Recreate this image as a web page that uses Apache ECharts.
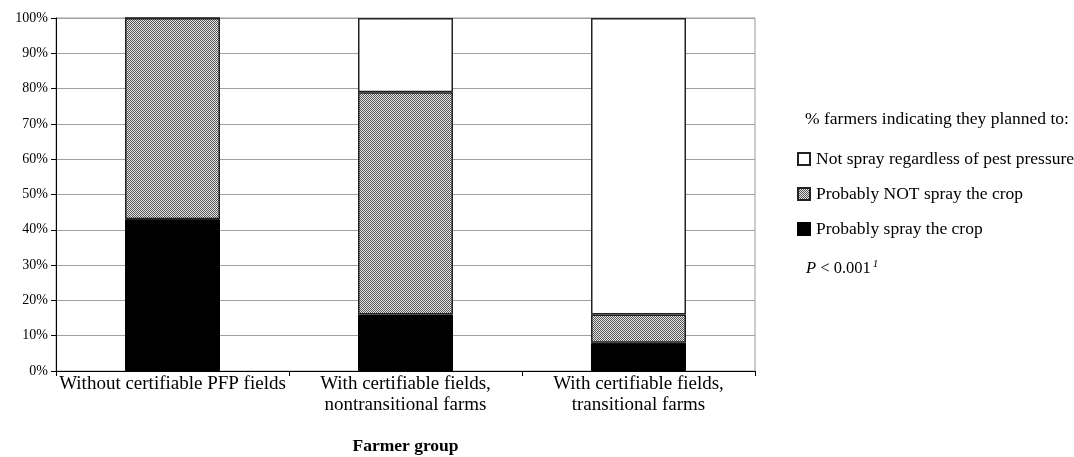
<!DOCTYPE html>
<html>
<head>
<meta charset="utf-8">
<script src="https://cdn.jsdelivr.net/npm/echarts@6/dist/echarts.min.js"></script>
<style>
html,body{margin:0;padding:0;background:#fff;}
#chart{width:1074px;height:457px;}
</style>
</head>
<body>
<div id="chart"></div>
<script>
const categories = ['Without certifiable PFP fields', 'With certifiable fields,\nnontransitional farms', 'With certifiable fields,\ntransitional farms'];
const sprayValues = [43, 16, 8];
const probablyNotValues = [57, 63, 8];
const notSprayValues = [0, 21, 84];
const seriesNames = ['Not spray regardless of pest pressure', 'Probably NOT spray the crop', 'Probably spray the crop'];
const yTicks = [0, 10, 20, 30, 40, 50, 60, 70, 80, 90, 100];

const FONT = 'Liberation Serif';

function makePattern() {
  const c = document.createElement('canvas');
  c.width = 2; c.height = 2;
  const ctx = c.getContext('2d');
  ctx.fillStyle = '#e6e6e6'; ctx.fillRect(0, 0, 2, 2);
  ctx.fillStyle = '#555555';
  ctx.fillRect(0, 0, 1, 1);
  ctx.fillRect(1, 1, 1, 1);
  return c;
}
const pattern = { image: makePattern(), repeat: 'repeat' };

const chart = echarts.init(document.getElementById('chart'), null, { renderer: 'canvas' });
const barW = 95;
const option = {
  animation: false,
  backgroundColor: '#fff',
  textStyle: { fontFamily: FONT, color: '#000' },
  grid: { left: 56, right: 319, top: 18, bottom: 86, show: true, borderColor: '#9a9a9a', borderWidth: 1, outerBoundsMode: 'none', containLabel: false },
  legend: {
    orient: 'vertical',
    left: 797,
    top: 150,
    padding: 0,
    itemWidth: 12,
    itemHeight: 12,
    itemGap: 17,
    icon: 'rect',
    data: [
      { name: seriesNames[0] },
      { name: seriesNames[1], itemStyle: { color: pattern } },
      { name: seriesNames[2] }
    ],
    textStyle: { fontFamily: FONT, fontSize: 17.5, color: '#000', padding: [0, 0, 0, 1] },
    selectedMode: false
  },
  graphic: [
    { type: 'text', left: 805, top: 110, style: { text: '% farmers indicating they planned to:', font: '17.5px "Liberation Serif"', fill: '#000' } },
    { type: 'text', left: 806, top: 259, style: {
      text: '{i|P} < 0.001{s|1}',
      font: '16.5px "Liberation Serif"', fill: '#000',
      rich: {
        i: { fontStyle: 'italic', fontFamily: FONT, fontSize: 16.5 },
        s: { fontStyle: 'italic', fontFamily: FONT, fontSize: 11, verticalAlign: 'top', padding: [0, 0, 9, 2] }
      }
    } }
  ],
  xAxis: {
    type: 'category',
    data: categories,
    name: 'Farmer group',
    nameLocation: 'middle',
    nameGap: 66,
    nameTextStyle: { fontFamily: FONT, fontSize: 17.5, fontWeight: 'bold', color: '#000' },
    axisLine: { lineStyle: { color: '#000', width: 1 } },
    axisTick: { show: true, interval: 0, length: 5, lineStyle: { color: '#000' } },
    axisLabel: { interval: 0, hideOverlap: false, fontFamily: FONT, fontSize: 19, color: '#000', margin: 3, lineHeight: 21 }
  },
  yAxis: {
    type: 'value',
    min: 0, max: 100, interval: 10,
    axisLine: { show: true, lineStyle: { color: '#000', width: 1 } },
    axisTick: { show: true, length: 5, lineStyle: { color: '#000' } },
    axisLabel: { fontFamily: FONT, fontSize: 14, color: '#000', margin: 8, formatter: v => yTicks.includes(v) ? v + '%' : '' },
    splitLine: { show: true, lineStyle: { color: '#a0a0a0', width: 1 } }
  },
  series: [
    { name: seriesNames[2], type: 'bar', stack: 's', data: sprayValues, barWidth: barW,
      itemStyle: { color: '#000', borderColor: '#000', borderWidth: 1 } },
    { name: seriesNames[1], type: 'bar', stack: 's', data: probablyNotValues, barWidth: barW,
      itemStyle: { color: pattern, borderColor: '#222', borderWidth: 1.5 } },
    { name: seriesNames[0], type: 'bar', stack: 's', data: notSprayValues, barWidth: barW,
      itemStyle: { color: '#fff', borderColor: '#222', borderWidth: 1.5 } }
  ]
};
chart.setOption(option);
</script>
</body>
</html>
